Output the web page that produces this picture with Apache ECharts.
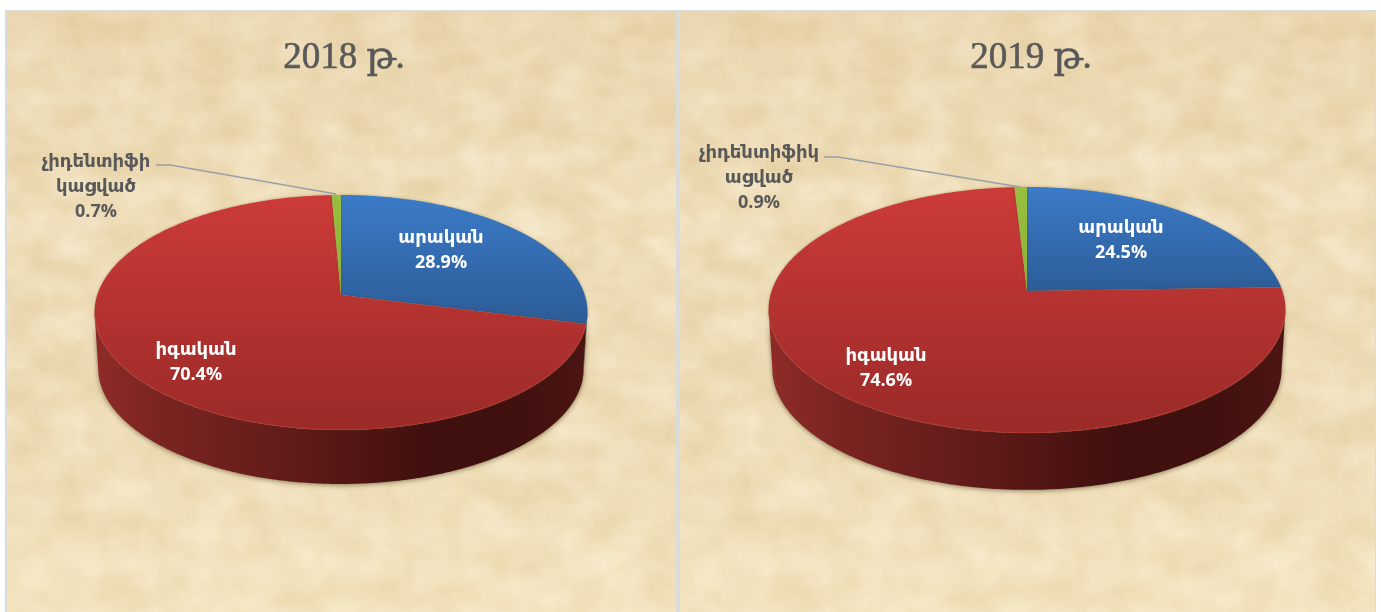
<!DOCTYPE html>
<html><head><meta charset="utf-8">
<style>
html,body{margin:0;padding:0;background:#fff;overflow:hidden}
#bg{position:absolute;left:0;top:0}
#chart{position:absolute;left:0;top:0;width:1381px;height:612px}
</style>
<script src="https://cdn.jsdelivr.net/npm/echarts@6/dist/echarts.min.js"></script>
</head><body>
<svg id="bg" width="1381" height="612" xmlns="http://www.w3.org/2000/svg">
 <defs>
  <filter id="parch" x="0" y="0" width="100%" height="100%" color-interpolation-filters="sRGB">
   <feTurbulence type="fractalNoise" baseFrequency="0.022 0.03" numOctaves="6" seed="23"/>
   <feColorMatrix type="matrix" values="0.08 0 0 0 0.90  0.12 0 0 0 0.815  0.20 0 0 0 0.635  0 0 0 0 1"/>
  </filter>
  <linearGradient id="shade" x1="0" y1="0" x2="0" y2="1">
   <stop offset="0" stop-color="#c9a468" stop-opacity=".14"/>
   <stop offset=".35" stop-color="#c9a468" stop-opacity=".02"/>
   <stop offset="1" stop-color="#fff3d0" stop-opacity=".25"/>
  </linearGradient>
 </defs>
 <rect x="5" y="10" width="1371" height="602" fill="#d9dbdd"/>
 <g transform="translate(7,12)"><rect width="669" height="600" filter="url(#parch)"/><rect width="669" height="600" fill="url(#shade)"/></g>
 <g transform="translate(680,12)"><rect width="695" height="600" filter="url(#parch)"/><rect width="695" height="600" fill="url(#shade)"/></g>
</svg>
<div id="chart"></div>
<script>
// ---- data ----
const sliceNames = ['արական', 'իգական', 'չիդենտիֆիկացված'];
const values2018 = [28.9, 70.4, 0.7];
const values2019 = [24.5, 74.6, 0.9];
const labels2018 = ['արական', 'իգական', 'չիդենտիֆի\nկացված'];
const labels2019 = ['արական', 'իգական', 'չիդենտիֆիկ\nացված'];
const titles = ['2018 թ.', '2019 թ.'];

// ---- look ----
const topStops = [['#3b7bc8', '#2c5c97'], ['#cc3b38', '#9a2a28'], ['#97bf3f', '#7d9e35']];
const wallTint = [
  [[0,'#2b4f7e'],[1,'#1e3c60']],
  [[0,'#8e2b28'],[.13,'#7b2522'],[.42,'#5f1a18'],[.68,'#3f100e'],[.84,'#3f100e'],[1,'#4c1513']],
  [[0,'#5d7a26'],[1,'#5d7a26']]
];
const LABEL_FONT = 'bold 18px "Open Sans", "DejaVu Sans", sans-serif';
const pies = [
  { cx:341, cy:295, above:100, below:135, halfW:246.5, depth:56, values:values2018, labels:labels2018,
    labelAt:[[441,250,'#fff'],[196,362,'#fff'],[96,187,'#595959']],
    leader:[[156,165],[170,165],[336,194]], blueBottom:322 },
  { cx:1027, cy:291, above:104, below:142, halfW:258.5, depth:59, values:values2019, labels:labels2019,
    labelAt:[[1121,240,'#fff'],[886,368,'#fff'],[759,178,'#595959']],
    leader:[[824,157],[838,157],[1020,187]], blueBottom:292 }
];

// Projected disc: a perspective view of a flat circle, so the hub sits above the ellipse centre.
function projector(p) {
  const k = (p.below - p.above) / (p.below + p.above);
  const a = p.above * (1 + k);
  const b = p.halfW * Math.sqrt(1 - k * k);
  return { k, at(theta, scale, dy) {
    const u = Math.sin(theta), v = -Math.cos(theta), w = 1 - k * v;
    return [p.cx + scale * b * u / w, p.cy + scale * a * v / w + dy];
  }};
}
function arc(pr, t0, t1, scale, dy) {
  const n = Math.max(2, Math.ceil(Math.abs(t1 - t0) / 0.01)), pts = [];
  for (let i = 0; i <= n; i++) pts.push(pr.at(t0 + (t1 - t0) * i / n, scale, dy));
  return pts;
}
const G = (x0, y0, x1, y1, stops) => new echarts.graphic.LinearGradient(
  x0, y0, x1, y1, stops.map(s => ({ offset: s[0], color: s[1] })), true);

function renderPie(pieIdx) {
  return function (params, api) {
    const p = pies[pieIdx], i = params.dataIndex, pr = projector(p);
    const total = p.values.reduce((s, x) => s + x, 0);
    let before = 0;
    for (let j = 0; j < i; j++) before += p.values[j];
    const t0 = before / total * 2 * Math.PI;
    const t1 = (before + api.value(0)) / total * 2 * Math.PI;
    const kids = [];
    const frontA = Math.acos(-pr.k), frontB = 2 * Math.PI - frontA;
    // side wall, only where this slice faces the viewer
    const wa = Math.max(t0, frontA), wb = Math.min(t1, frontB);
    if (wb > wa) {
      const top = arc(pr, wa, wb, 1, 0), bot = arc(pr, wb, wa, 0.985, p.depth);
      kids.push({ type:'polygon', shape:{ points: top.concat(bot) }, z2:1,
        style:{ fill: G(p.cx - p.halfW, 0, p.cx + p.halfW, 0, wallTint[i]),
                shadowBlur:5, shadowColor:'rgba(70,55,20,.6)', shadowOffsetY:1 } });
    }
    // top face
    const yTop = p.cy - p.above;
    const yBot = i === 0 ? p.blueBottom : p.cy + p.below;
    const face = [[p.cx, p.cy]].concat(arc(pr, t0, t1, 1, 0));
    kids.push({ type:'polygon', shape:{ points: face }, z2:2,
      style:{ fill: G(0, yTop, 0, yBot, [[0, topStops[i][0]], [1, topStops[i][1]]]),
              shadowBlur: 3, shadowColor:'rgba(70,55,20,.35)' } });
    // bevel highlight on the front rim
    if (wb > wa && i === 1) {
      kids.push({ type:'polyline', shape:{ points: arc(pr, wa + 0.02, wb - 0.02, 0.997, 0) }, z2:3,
        style:{ fill:null, stroke:'rgba(200,62,54,.45)', lineWidth:1.2 } });
    }
    // label
    const at = p.labelAt[i];
    kids.push({ type:'text', z2:6, style:{
      x: at[0], y: at[1], text: p.labels[i] + '\n' + api.value(0).toFixed(1) + '%',
      fill: at[2], font: LABEL_FONT, lineHeight: 25, align:'center', verticalAlign:'middle' } });
    if (i === 2) {
      kids.push({ type:'polyline', shape:{ points:p.leader }, z2:5,
        style:{ fill:null, stroke:'#9a9fa5', lineWidth:1.3 } });
    }
    return { type:'group', children:kids };
  };
}

const chart = echarts.init(document.getElementById('chart'), null, { renderer:'canvas' });
chart.setOption({
  backgroundColor:'transparent',
  animation:false,
  title: titles.map((t, i) => ({
    text:t, left: i === 0 ? 339 : 1026, top: 35, textAlign:'center',
    textStyle:{ color:'#595959', fontWeight:'normal', fontSize:37,
      textBorderColor:'#595959', textBorderWidth:0.6,
      fontFamily:'"Liberation Serif","DejaVu Serif",serif' }
  })),
  series: pies.map((p, idx) => ({
    type:'custom', name:titles[idx], coordinateSystem:'none', silent:true, clip:false,
    renderItem: renderPie(idx),
    data: p.values.map((v, j) => ({ name: sliceNames[j], value:[v] }))
  }))
});
</script>
</body></html>
